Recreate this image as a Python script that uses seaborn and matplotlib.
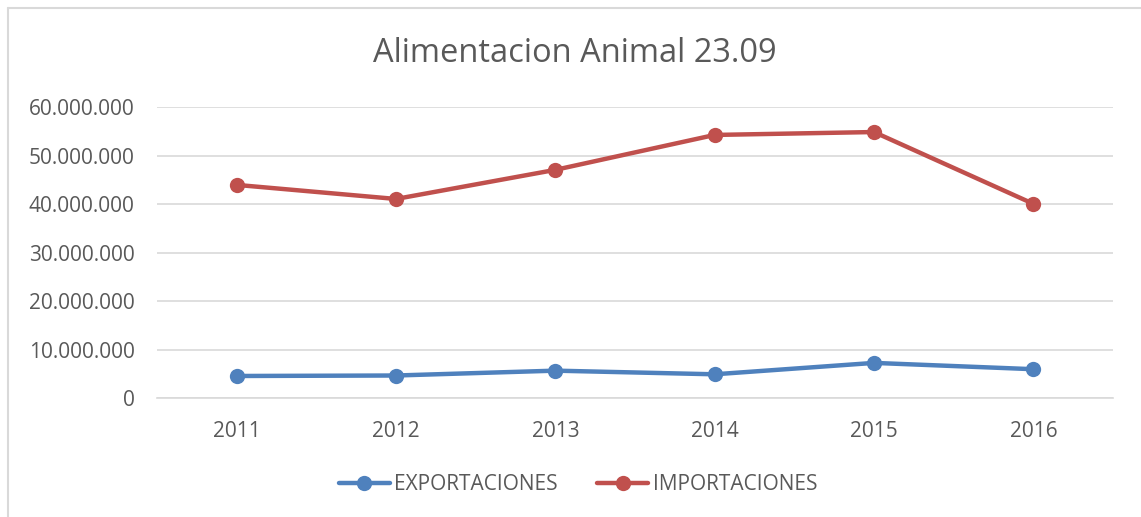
import matplotlib
matplotlib.use("Agg")
import matplotlib.pyplot as plt
import matplotlib.ticker as mticker
from matplotlib.lines import Line2D
import seaborn as sns
import pandas as pd

years = ["2011", "2012", "2013", "2014", "2015", "2016"]
exportaciones = [4600000, 4700000, 5700000, 4950000, 7300000, 6000000]
importaciones = [44000000, 41100000, 47100000, 54300000, 54900000, 40100000]
series_names = ["EXPORTACIONES", "IMPORTACIONES"]
colors = ["#4F81BD", "#C0504D"]
title = "Alimentacion Animal 23.09"

sns.set_theme(style="white")
plt.rcParams["font.family"] = ["Open Sans", "DejaVu Sans"]
text_color = "#595959"

df = pd.DataFrame({
    "year": years * 2,
    "x": list(range(len(years))) * 2,
    "value": exportaciones + importaciones,
    "serie": [series_names[0]] * len(years) + [series_names[1]] * len(years),
})

fig = plt.figure(figsize=(11.41, 5.17), dpi=100)
ax = fig.add_axes([157 / 1141, 1 - 398.3 / 517, (1113 - 157) / 1141, (398.3 - 107.3) / 517])

sns.lineplot(data=df, x="x", y="value", hue="serie", palette=colors,
             marker="o", markersize=11, markeredgewidth=0, linewidth=3.2,
             ax=ax, legend=False, sort=False)

ax.set_xlim(-0.5, len(years) - 0.5)
ax.set_ylim(0, 60000000)
ax.set_xticks(range(len(years)))
ax.set_xticklabels(years)
ax.yaxis.set_major_locator(mticker.MultipleLocator(10000000))
ax.yaxis.set_major_formatter(mticker.FuncFormatter(lambda v, p: f"{int(v):,}".replace(",", ".")))
ax.grid(axis="y", color="#D9D9D9", linewidth=1.2)
ax.set_axisbelow(True)
for s in ["top", "right", "left"]:
    ax.spines[s].set_visible(False)
ax.spines["bottom"].set_color("#D9D9D9")
ax.spines["bottom"].set_linewidth(1.2)
ax.tick_params(axis="both", length=0, labelsize=15, colors=text_color)
ax.tick_params(axis="y", pad=16)
ax.tick_params(axis="x", pad=16)
ax.set_xlabel("")
ax.set_ylabel("")

fig.text(575 / 1141, 1 - 53 / 517, title, ha="center", va="center",
         fontsize=23.5, color=text_color)

handles = [Line2D([0], [0], color=c, linewidth=3.2, marker="o", markersize=11,
                  markeredgewidth=0) for c in colors]
fig.legend(handles, series_names, loc="center", bbox_to_anchor=(578 / 1141, 1 - 485 / 517),
           ncol=2, frameon=False, fontsize=15, labelcolor=text_color,
           handlelength=2.45, handletextpad=0.2, columnspacing=1.9)

# chart border (light gray)
fig.add_artist(Line2D([8 / 1141, 1], [1 - 8 / 517, 1 - 8 / 517], color="#D9D9D9",
                      linewidth=1.5, transform=fig.transFigure))
fig.add_artist(Line2D([8 / 1141, 8 / 1141], [0, 1 - 8 / 517], color="#D9D9D9",
                      linewidth=1.5, transform=fig.transFigure))

fig.savefig("out.png", dpi=100, facecolor="white")
